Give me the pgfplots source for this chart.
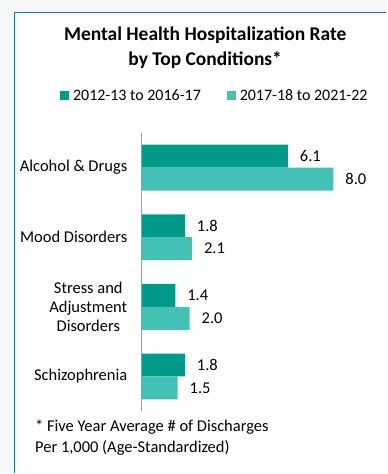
\documentclass[border=0pt]{standalone}
\usepackage{pgfplots}
\pgfplotsset{compat=1.18}
\usepackage{fontspec}
\setmainfont{Carlito}
\definecolor{darkteal}{HTML}{009A88}
\definecolor{lightteal}{HTML}{43C1B4}
\definecolor{borderblue}{HTML}{1F72B2}
\definecolor{bggray}{HTML}{F6F8F8}
\definecolor{axisgray}{HTML}{A0A0A0}
\pgfplotstableread{
y v
3 6.1
2 1.8
1 1.4
0 1.8
}\older
\pgfplotstableread{
y v
3 8.0
2 2.1
1 2.0
0 1.5
}\newer
\begin{document}
\begin{tikzpicture}
\fill[bggray] (0pt,0pt) rectangle (387pt,474pt);
\fill[white] (14.5pt,0pt) rectangle (387pt,461.5pt);
\draw[borderblue,line width=1.6pt] (14.5pt,0pt) -- (14.5pt,461.5pt) -- (387pt,461.5pt);
\node[font=\fontsize{19.5}{22}\selectfont\bfseries] at (205.5pt,439pt) {Mental Health Hospitalization Rate};
\node[font=\fontsize{19.5}{22}\selectfont\bfseries] at (205.5pt,414pt) {by Top Conditions*};
\node[font=\fontsize{16.5}{18}\selectfont,anchor=west,inner sep=0pt] at (35pt,46pt) {* Five Year Average \# of Discharges};
\node[font=\fontsize{16.5}{18}\selectfont,anchor=west,inner sep=0pt] at (35pt,25pt) {Per 1,000 (Age-Standardized)};
\begin{axis}[
  at={(142pt,62pt)}, anchor=south west,
  scale only axis, width=240pt, height=279pt,
  xmin=0, xmax=10, ymin=-0.5, ymax=3.5,
  xbar, bar width=23pt,
  axis x line=none,
  axis y line*=left,
  y axis line style={axisgray,line width=1.3pt,-},
  ytick={0,1,2,3},
  yticklabels={Schizophrenia,{Stress and\\Adjustment\\Disorders},Mood Disorders,Alcohol \& Drugs},
  yticklabel style={align=center,font=\fontsize{16.5}{19.5}\selectfont,xshift=-11pt},
  major tick length=0pt,
  nodes near coords,
  nodes near coords style={font=\fontsize{16.5}{18}\selectfont,anchor=west,xshift=8.5pt,
    /pgf/number format/.cd,fixed,fixed zerofill,precision=1,assume math mode=true},
  legend columns=2,
  legend style={at={(axis description cs:0.305,1.133)},anchor=center,draw=none,fill=none,
    font=\fontsize{16}{18}\selectfont,
    /tikz/every odd column/.append style={column sep=2pt},
    /tikz/every even column/.append style={column sep=24pt}},
  legend image code/.code={\fill[#1] (0pt,-4.5pt) rectangle (9pt,4.5pt);},
  clip=false,
]
\addplot[fill=darkteal,draw=none,bar shift=11.5pt] table[x=v,y=y]{\older};
\addplot[fill=lightteal,draw=none,bar shift=-11.5pt] table[x=v,y=y]{\newer};
\legend{2012-13 to 2016-17,2017-18 to 2021-22}
\end{axis}
\end{tikzpicture}
\end{document}
